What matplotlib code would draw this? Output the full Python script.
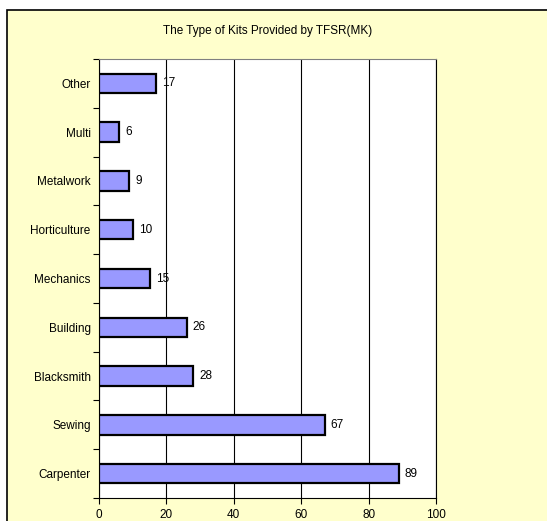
import matplotlib.pyplot as plt
from matplotlib.patches import Rectangle

plt.rcParams['font.family'] = ['Liberation Sans', 'DejaVu Sans']

# Data
categories = ['Carpenter', 'Sewing', 'Blacksmith', 'Building', 'Mechanics',
              'Horticulture', 'Metalwork', 'Multi', 'Other']
counts = [89, 67, 28, 26, 15, 10, 9, 6, 17]
xticks = [0, 20, 40, 60, 80, 100]

fig = plt.figure(figsize=(5.47, 5.21), dpi=100)
fig.patch.set_facecolor('white')

# yellow chart area with black frame
fig.patches.append(Rectangle((7 / 547, -0.1), 1.0, (521 - 10) / 521 + 0.1,
                             transform=fig.transFigure, facecolor='#FFFFCC',
                             edgecolor='black', linewidth=1.2, zorder=-5))

ax = fig.add_axes([99 / 547, 1 - 498 / 521, 337 / 547, 439 / 521])
ax.set_facecolor('white')

y = range(len(categories))
ax.barh(y, counts, height=0.4, color='#9999FF', edgecolor='black',
        linewidth=1.6, zorder=3)

for i, v in enumerate(counts):
    ax.text(v + 1.8, i, str(v), va='center', ha='left', fontsize=8.5, zorder=4)

ax.set_xlim(0, 100)
ax.set_ylim(-0.5, len(categories) - 0.5)
ax.set_xticks(xticks)
ax.set_xticklabels([str(t) for t in xticks], fontsize=8.5)
ax.set_yticks(list(y))
ax.set_yticklabels(categories, fontsize=8.5)
ax.set_yticks([i - 0.5 for i in range(len(categories) + 1)], minor=True)
ax.tick_params(axis='y', which='major', length=0, pad=6)
ax.tick_params(axis='y', which='minor', length=4, width=0.8, direction='out')
ax.tick_params(axis='x', length=4, width=0.8, direction='out', pad=4)

ax.grid(axis='x', color='black', linewidth=0.8, zorder=1)
for s in ax.spines.values():
    s.set_linewidth(0.8)
ax.spines['top'].set_color('#808080')
ax.spines['right'].set_color('black')

fig.text(268 / 547, 1 - 31 / 521, 'The Type of Kits Provided by TFSR(MK)',
         ha='center', va='center', fontsize=8.5)

fig.savefig('out.png', dpi=100)
